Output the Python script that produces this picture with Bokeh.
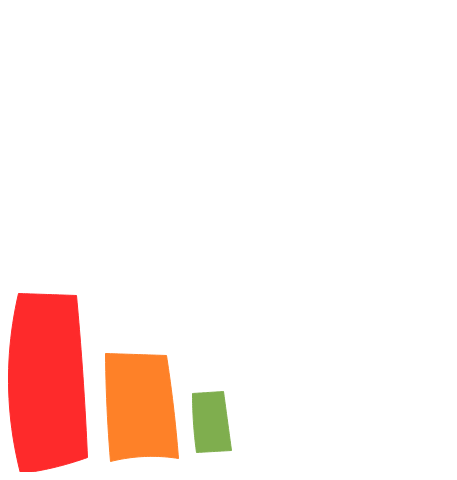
import numpy as np
from bokeh.plotting import figure
from bokeh.models import Range1d, ColumnDataSource
from bokeh.embed import file_html
from bokeh.resources import INLINE

# ---- data ----
categories = ["A", "B", "C"]
values = [167, 107, 68]
colors = ["#fe2a2b", "#fe8128", "#7fae4e"]

# ---- sketchy style (pixel offsets) ----
# x of corners: TL, TR, BR, BL
corner_x = [(10, 68, 79, 12), (97, 158, 170, 102), (184, 215, 223, 188)]
# top corner dy relative to value (TL, TR), bottom corner y relative to baseline (BR, BL)
top_dy = [(0, -2), (0, -2), (-1, 1)]
bot_y = [(3, -13), (2, -1), (10, 8)]
# edge bulges (dx,dy) at midpoint: top, right, bottom, left
bulges = [
    [(0, 0), (1, 0), (0, -2), (-11, 0)],
    [(0, 0), (1, 0), (0, 3.5), (-1, 0)],
    [(0, 0), (0, 0), (0, 0), (-1, 0)],
]


def qcurve(p0, p1, b, n=24):
    mid = ((p0[0] + p1[0]) / 2, (p0[1] + p1[1]) / 2)
    c = (mid[0] + 2 * b[0], mid[1] + 2 * b[1])
    t = np.linspace(0, 1, n, endpoint=False)
    x = (1 - t) ** 2 * p0[0] + 2 * (1 - t) * t * c[0] + t ** 2 * p1[0]
    y = (1 - t) ** 2 * p0[1] + 2 * (1 - t) * t * c[1] + t ** 2 * p1[1]
    return list(x), list(y)


xs, ys = [], []
for i, v in enumerate(values):
    cx = corner_x[i]
    tl = (cx[0], v + top_dy[i][0])
    tr = (cx[1], v + top_dy[i][1])
    br = (cx[2], bot_y[i][0])
    bl = (cx[3], bot_y[i][1])
    pts = [tl, tr, br, bl]
    px, py = [], []
    for k in range(4):
        a, b = pts[k], pts[(k + 1) % 4]
        cxs, cys = qcurve(a, b, bulges[i][k])
        px += cxs
        py += cys
    xs.append(px)
    ys.append(py)

src = ColumnDataSource(dict(xs=xs, ys=ys, color=colors, cat=categories, val=values))

W, H = 449, 472
p = figure(width=W, height=H, output_backend="svg", toolbar_location=None,
           x_range=Range1d(-8, W - 8), y_range=Range1d(-12, H - 12),
           min_border=0)
p.patches("xs", "ys", source=src, fill_color="color", line_color="color", line_width=1)
p.axis.visible = False
p.grid.visible = False
p.outline_line_color = None
p.background_fill_color = "white"
p.border_fill_color = "white"

open("out.html", "w").write(file_html(p, INLINE))
